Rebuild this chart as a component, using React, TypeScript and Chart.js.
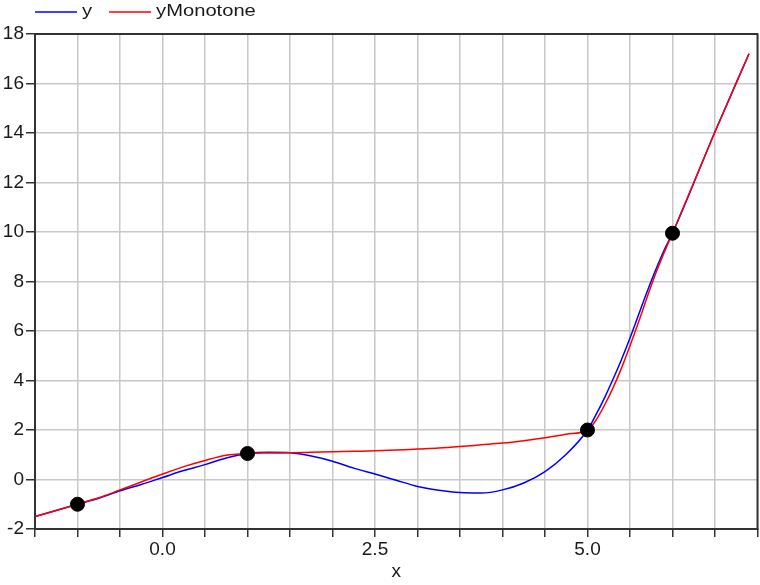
import React, { useEffect, useRef } from "react";
import { Chart, registerables } from "chart.js";

Chart.register(...registerables);

// ---- data ----
const xValues = [
  -1.5, -1, -0.75, -0.5, -0.25, 0, 0.25, 0.5, 0.75, 1, 1.25, 1.5, 1.75, 2, 2.25,
  2.5, 2.75, 3, 3.25, 3.5, 3.75, 4, 4.25, 4.5, 4.75, 5, 5.1, 5.2, 5.3, 5.4, 5.5,
  5.6, 5.7, 5.8, 5.9, 6, 6.5, 6.9,
];
const yValues = [
  -1.5, -1.0, -0.76, -0.46, -0.2, 0.08, 0.36, 0.6, 0.87, 1.05, 1.1, 1.08, 0.95,
  0.74, 0.46, 0.22, -0.03, -0.28, -0.43, -0.53, -0.55, -0.42, -0.14, 0.32, 1.02,
  2.0, 2.62, 3.3, 4.05, 4.85, 5.72, 6.65, 7.58, 8.45, 9.25, 9.95, 14.05, 17.2,
];
const yMonotoneValues = [
  -1.5, -1.0, -0.74, -0.42, -0.1, 0.22, 0.52, 0.77, 0.98, 1.05, 1.07, 1.08, 1.1,
  1.12, 1.14, 1.16, 1.19, 1.23, 1.27, 1.33, 1.4, 1.47, 1.57, 1.69, 1.83, 2.0,
  2.4, 3.0, 3.7, 4.5, 5.4, 6.35, 7.35, 8.3, 9.15, 9.95, 14.05, 17.2,
];
const tableX = [-1, 1, 5, 6];
const tableY = [-1, 1.05, 2, 9.95];
const seriesLabels = ["y", "yMonotone"];
const seriesColors = ["#0000ff", "#ff0000"];
const labeledXTicks = [0, 2.5, 5];
const xAxisTitle = "x";

const TEXT = "#1a1a1a";
const AXIS = "#333333";
const GRID = "#c8c8c8";
const FONT = "'Liberation Sans', Arial, sans-serif";

const legendPlugin = {
  id: "lineLegend",
  afterDraw(chart: any) {
    const ctx = chart.ctx;
    ctx.save();
    let x = 35;
    const y = 12;
    ctx.font = `16px ${FONT}`;
    ctx.textBaseline = "middle";
    ctx.textAlign = "left";
    const sx = 1.26;
    seriesLabels.forEach((lab) => {
      const ds = chart.data.datasets.find((d: any) => d.label === lab);
      if (!ds) return;
      ctx.strokeStyle = ds.borderColor;
      ctx.lineWidth = 1.5;
      ctx.beginPath();
      ctx.moveTo(x, y);
      ctx.lineTo(x + 42, y);
      ctx.stroke();
      x += 47;
      ctx.fillStyle = TEXT;
      ctx.save();
      ctx.translate(x, y);
      ctx.scale(sx, 1);
      ctx.fillText(lab, 0, 0);
      ctx.restore();
      x += ctx.measureText(lab).width * sx + 17;
    });
    ctx.restore();
  },
};

const framePlugin = {
  id: "frame",
  beforeDatasetsDraw(chart: any) {
    const { ctx, chartArea } = chart;
    ctx.save();
    ctx.strokeStyle = AXIS;
    ctx.lineWidth = 2;
    ctx.strokeRect(
      chartArea.left,
      chartArea.top,
      chartArea.right - chartArea.left,
      chartArea.bottom - chartArea.top
    );
    ctx.restore();
  },
};

export default function App() {
  const ref = useRef<HTMLCanvasElement | null>(null);

  useEffect(() => {
    if (!ref.current) return;
    const mk = (ys: number[]) => xValues.map((x, i) => ({ x, y: ys[i] }));
    const chart = new Chart(ref.current, {
      type: "line",
      data: {
        datasets: [
          {
            label: "points",
            data: tableX.map((x, i) => ({ x, y: tableY[i] })),
            showLine: false,
            pointRadius: 7,
            pointBackgroundColor: "#000000",
            pointBorderColor: "#000000",
            borderColor: "#000000",
            order: 0,
          },
          {
            label: seriesLabels[1],
            data: mk(yMonotoneValues),
            borderColor: seriesColors[1],
            borderWidth: 1.5,
            pointRadius: 0,
            cubicInterpolationMode: "monotone",
            order: 1,
          },
          {
            label: seriesLabels[0],
            data: mk(yValues),
            borderColor: seriesColors[0],
            borderWidth: 1.5,
            pointRadius: 0,
            cubicInterpolationMode: "monotone",
            order: 2,
          },
        ],
      },
      options: {
        responsive: false,
        animation: false,
        layout: { autoPadding: false, padding: { top: 34, right: 2.5, left: 0, bottom: 0 } },
        plugins: { legend: { display: false }, tooltip: { enabled: false } },
        scales: {
          x: {
            type: "linear",
            min: -1.5,
            max: 7,
            afterFit: (s: any) => {
              s.height = 56;
              s.paddingLeft = 0;
              s.paddingRight = 0;
            },
            ticks: {
              stepSize: 0.5,
              autoSkip: false,
              maxRotation: 0,
              color: TEXT,
              padding: 1,
              font: { size: 19, family: FONT },
              callback: (v: any) => {
                const n = Number(v);
                return labeledXTicks.some((t) => Math.abs(t - n) < 1e-6)
                  ? n.toFixed(1)
                  : "";
              },
            },
            grid: {
              color: GRID,
              lineWidth: 1.5,
              tickColor: AXIS,
              tickLength: 8,
            },
            border: { color: AXIS, width: 2 },
            title: {
              display: true,
              text: xAxisTitle,
              color: TEXT,
              font: { size: 19, family: FONT },
              padding: { top: 0, bottom: 2 },
            },
          },
          y: {
            type: "linear",
            min: -2,
            max: 18,
            afterFit: (s: any) => {
              s.width = 35;
            },
            ticks: {
              stepSize: 2,
              color: TEXT,
              padding: 2,
              font: { size: 19, family: FONT },
            },
            grid: {
              color: GRID,
              lineWidth: 1.5,
              tickColor: AXIS,
              tickLength: 9,
            },
            border: { color: AXIS, width: 2 },
          },
        },
      },
      plugins: [framePlugin, legendPlugin],
    } as any);
    return () => chart.destroy();
  }, []);

  return (
    <div style={{ position: "absolute", left: 0, top: 0, width: 760, height: 585, background: "#ffffff" }}>
      <canvas ref={ref} width={760} height={585} />
    </div>
  );
}
